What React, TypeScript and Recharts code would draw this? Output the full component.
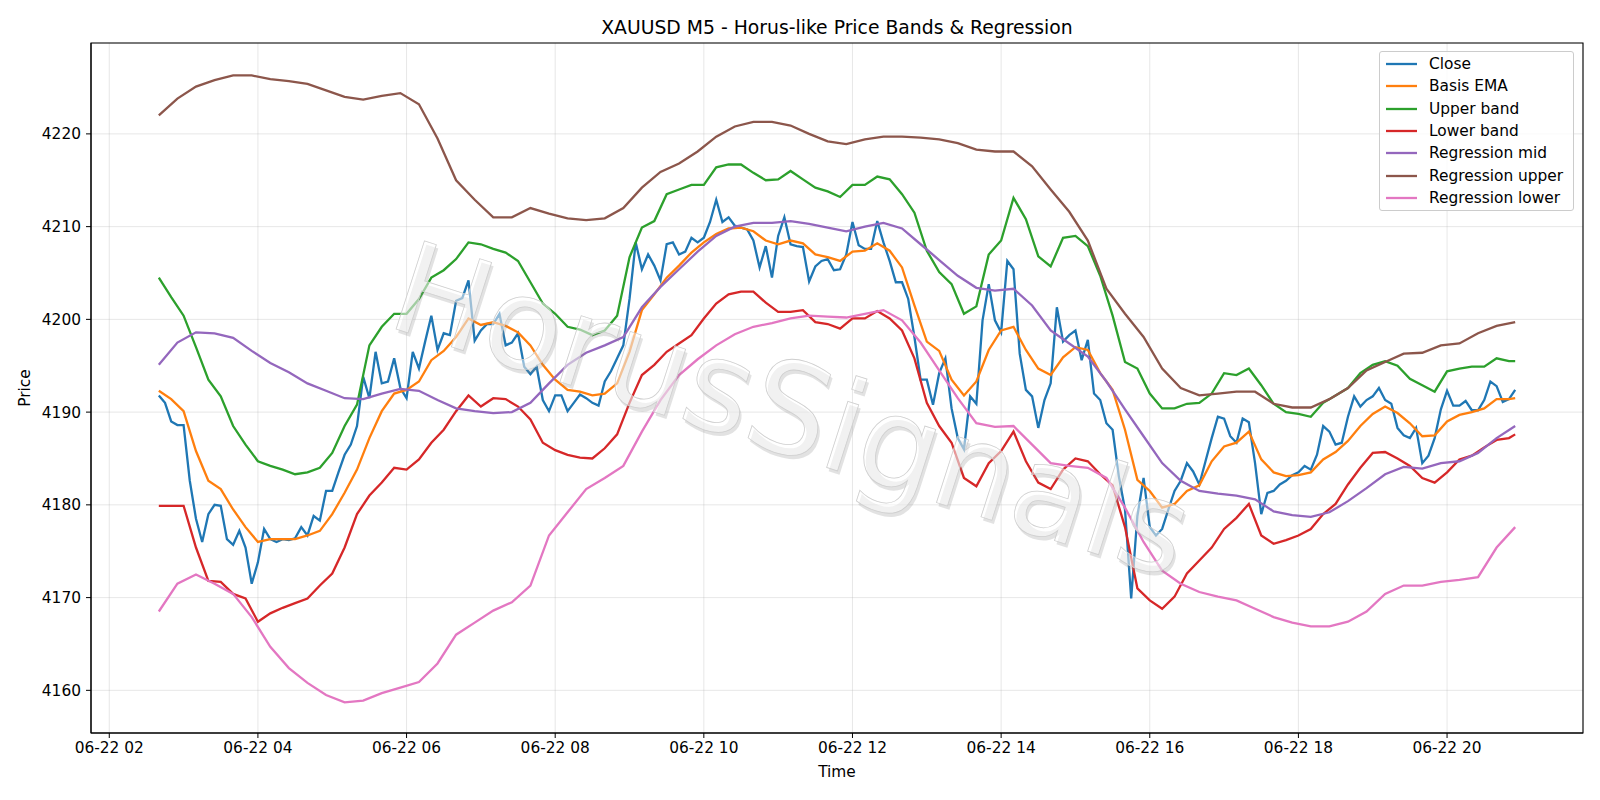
import React from 'react';
import { LineChart, Line, XAxis, YAxis, CartesianGrid, Legend, ReferenceArea } from 'recharts';

// time is in minutes after midnight on 06-22; series start at 02:40 and end at 20:55
const START_MIN = 160;
const END_MIN = 1255;

const xTicks = [120, 240, 360, 480, 600, 720, 840, 960, 1080, 1200];
const yTicks = [4160, 4170, 4180, 4190, 4200, 4210, 4220];

// M5 closes, one every 5 minutes
const closeValues = [
  4191.8, 4191.0, 4189.0, 4188.6, 4188.6, 4182.6, 4178.5, 4176.0, 4179.0, 4180.0, 4179.9, 4176.3,
  4175.7, 4177.2, 4175.4, 4171.5, 4173.8, 4177.4, 4176.3, 4176.0, 4176.3, 4176.2, 4176.4, 4177.6,
  4176.7, 4178.8, 4178.3, 4181.5, 4181.5, 4183.5, 4185.4, 4186.5, 4188.5, 4193.8, 4191.5, 4196.5,
  4193.1, 4193.3, 4195.8, 4192.6, 4191.5, 4196.5, 4194.7, 4197.6, 4200.4, 4196.7, 4198.5, 4198.3,
  4202.0, 4202.3, 4204.2, 4197.7, 4198.8, 4199.5, 4199.5, 4200.6, 4197.2, 4197.5, 4198.5, 4194.9,
  4194.1, 4194.9, 4191.3, 4190.1, 4191.8, 4191.8, 4190.1, 4191.0, 4191.9, 4191.5, 4191.0, 4190.7,
  4193.3, 4194.4, 4195.8, 4197.2, 4202.2, 4208.3, 4205.4, 4207.0, 4205.8, 4204.2, 4208.1, 4208.3,
  4207.0, 4207.3, 4208.8, 4208.3, 4208.8, 4210.5, 4212.9, 4210.5, 4211.0, 4210.1, 4209.9, 4209.7,
  4208.5, 4205.6, 4207.9, 4204.5, 4209.0, 4211.0, 4208.1, 4207.9, 4207.8, 4204.1, 4205.7, 4206.3,
  4206.5, 4205.3, 4205.4, 4207.0, 4210.5, 4208.0, 4207.6, 4207.6, 4210.6, 4208.3, 4206.3, 4204.0,
  4204.0, 4202.2, 4198.1, 4193.5, 4193.5, 4190.8, 4194.2, 4195.8, 4190.4, 4187.2, 4186.0, 4191.7,
  4190.9, 4199.9, 4203.8, 4199.9, 4198.6, 4206.3, 4205.4, 4196.3, 4192.4, 4191.7, 4188.3, 4191.3,
  4193.1, 4201.3, 4197.6, 4198.3, 4198.8, 4195.6, 4197.8, 4192.0, 4191.3, 4188.8, 4188.1, 4183.1,
  4179.5, 4169.9, 4178.8, 4182.9, 4177.6, 4176.7, 4177.4, 4179.5, 4181.5, 4182.6, 4184.5, 4183.6,
  4182.2, 4184.7, 4187.2, 4189.5, 4189.3, 4187.4, 4186.7, 4189.3, 4188.9, 4184.5, 4179.0, 4181.3,
  4181.5, 4182.2, 4182.6, 4183.2, 4183.5, 4184.2, 4183.8, 4185.4, 4188.5, 4187.9, 4186.5, 4186.7,
  4189.5, 4191.7, 4190.6, 4191.3, 4191.7, 4192.6, 4191.3, 4190.9, 4188.3, 4187.5, 4187.2, 4188.3,
  4184.5, 4185.3, 4187.2, 4190.3, 4192.3, 4190.7, 4190.7, 4191.2, 4190.2, 4190.2, 4191.3, 4193.3,
  4192.8, 4191.1, 4191.4, 4192.4,
];

// bands read every 10 minutes (last value at 20:55)
const emaValues = [
  4192.3, 4191.4,
  4190.1, 4185.8, 4182.6, 4181.7, 4179.5, 4177.6,
  4176.0, 4176.3, 4176.3, 4176.3, 4176.7, 4177.2,
  4179.0, 4181.3, 4183.8, 4187.2, 4190.1, 4192.0,
  4192.4, 4193.3, 4195.6, 4196.6, 4198.1, 4200.1,
  4199.4, 4199.7, 4199.3, 4198.6, 4197.2, 4195.1,
  4193.5, 4192.4, 4192.2, 4191.8, 4192.0, 4193.1,
  4196.5, 4201.0, 4202.7, 4204.5, 4205.8, 4207.2,
  4208.3, 4209.2, 4209.8, 4209.9, 4209.5, 4208.5,
  4208.1, 4208.5, 4208.2, 4207.0, 4206.7, 4206.3,
  4207.3, 4207.4, 4208.2, 4207.4, 4205.6, 4201.5,
  4197.6, 4196.6, 4193.5, 4191.8, 4193.3, 4196.7,
  4198.8, 4199.2, 4196.7, 4194.7, 4194.0, 4195.9,
  4197.0, 4196.7, 4194.2, 4192.4, 4188.1, 4182.7,
  4181.5, 4179.7, 4180.1, 4181.5, 4182.1, 4184.7,
  4186.3, 4186.7, 4187.9, 4184.9, 4183.5, 4183.1,
  4183.2, 4183.5, 4184.9, 4185.7, 4186.9, 4188.5,
  4189.8, 4190.6, 4189.9, 4188.8, 4187.4, 4187.5,
  4189.0, 4189.7, 4190.0, 4190.4, 4191.4, 4191.4, 4191.5,
];

const upperBandValues = [
  4204.5, 4202.4,
  4200.4, 4197.0, 4193.5, 4191.7, 4188.5, 4186.5,
  4184.7, 4184.2, 4183.8, 4183.3, 4183.5, 4184.0,
  4185.6, 4188.5, 4190.8, 4197.2, 4199.2, 4200.6,
  4200.6, 4202.2, 4204.5, 4205.3, 4206.5, 4208.3,
  4208.1, 4207.6, 4207.2, 4206.3, 4204.0, 4201.7,
  4200.6, 4199.2, 4198.9, 4198.3, 4198.8, 4200.4,
  4206.7, 4209.9, 4210.6, 4213.5, 4214.0, 4214.5,
  4214.5, 4216.4, 4216.7, 4216.7, 4215.8, 4215.0,
  4215.1, 4216.0, 4215.1, 4214.2, 4213.8, 4213.2,
  4214.5, 4214.5, 4215.4, 4215.1, 4213.5, 4211.5,
  4207.4, 4205.1, 4203.8, 4200.6, 4201.4, 4207.0,
  4208.5, 4213.1, 4210.8, 4206.8, 4205.7, 4208.8,
  4209.0, 4207.9, 4204.7, 4200.4, 4195.4, 4194.7,
  4192.0, 4190.4, 4190.4, 4190.9, 4191.0, 4192.0,
  4194.2, 4194.0, 4194.7, 4192.9, 4190.9, 4190.0,
  4189.8, 4189.5, 4191.0, 4191.8, 4192.6, 4194.2,
  4195.1, 4195.5, 4195.0, 4193.6, 4192.9, 4192.2,
  4194.4, 4194.7, 4194.9, 4194.9, 4195.8, 4195.5, 4195.5,
];

const lowerBandValues = [
  4179.9, 4179.9,
  4179.9, 4175.4, 4171.8, 4171.7, 4170.4, 4169.9,
  4167.4, 4168.3, 4168.9, 4169.4, 4169.9, 4171.3,
  4172.6, 4175.4, 4179.0, 4181.0, 4182.4, 4184.0,
  4183.8, 4184.9, 4186.7, 4188.1, 4190.1, 4191.8,
  4190.6, 4191.5, 4191.4, 4190.6, 4189.2, 4186.7,
  4185.9, 4185.4, 4185.1, 4185.0, 4186.1, 4187.6,
  4191.0, 4194.0, 4195.1, 4196.5, 4197.4, 4198.3,
  4200.1, 4201.7, 4202.7, 4203.0, 4203.0, 4201.8,
  4200.8, 4200.8, 4201.0, 4199.7, 4199.5, 4199.0,
  4200.1, 4200.1, 4200.9, 4200.1, 4198.8, 4195.8,
  4191.0, 4188.5, 4186.7, 4182.9, 4182.0, 4184.5,
  4185.8, 4187.9, 4184.7, 4182.4, 4181.7, 4183.8,
  4185.0, 4184.7, 4183.3, 4182.1, 4177.6, 4171.0,
  4169.7, 4168.8, 4170.1, 4172.6, 4174.0, 4175.4,
  4177.4, 4178.6, 4180.1, 4176.7, 4175.8, 4176.2,
  4176.7, 4177.4, 4179.0, 4180.1, 4182.2, 4184.0,
  4185.6, 4185.7, 4185.0, 4184.2, 4182.9, 4182.4,
  4183.5, 4184.9, 4185.3, 4186.2, 4187.0, 4187.2, 4187.6,
];

// regression channel read every 15 minutes
const regMidValues = [
  4195.1, 4197.5,
  4198.6, 4198.5, 4198.0, 4196.6,
  4195.3, 4194.3, 4193.1, 4192.3,
  4191.5, 4191.4, 4192.0, 4192.5,
  4192.3, 4191.3, 4190.4, 4190.1,
  4189.9, 4190.0, 4191.0, 4193.1,
  4195.1, 4196.4, 4197.2, 4198.1,
  4201.3, 4203.5, 4205.4, 4207.3,
  4209.0, 4210.0, 4210.4, 4210.4,
  4210.6, 4210.3, 4209.9, 4209.5,
  4210.0, 4210.4, 4209.8, 4208.1,
  4206.4, 4204.7, 4203.4, 4203.1,
  4203.3, 4201.5, 4198.8, 4197.4,
  4196.0, 4193.3, 4190.3, 4187.4,
  4184.5, 4182.6, 4181.5, 4181.2,
  4181.0, 4180.6, 4179.3, 4178.9,
  4178.7, 4179.2, 4180.4, 4181.8,
  4183.3, 4184.1, 4183.9, 4184.5,
  4184.7, 4185.6, 4187.2, 4188.5,
];

const regUpperValues = [
  4222.0, 4223.8,
  4225.1, 4225.8, 4226.3, 4226.3,
  4225.9, 4225.7, 4225.4, 4224.7,
  4224.0, 4223.7, 4224.1, 4224.4,
  4223.2, 4219.5, 4215.0, 4212.9,
  4211.0, 4211.0, 4212.0, 4211.4,
  4210.9, 4210.7, 4210.9, 4212.0,
  4214.2, 4215.9, 4216.8, 4218.1,
  4219.7, 4220.8, 4221.3, 4221.3,
  4220.9, 4220.0, 4219.2, 4218.9,
  4219.4, 4219.7, 4219.7, 4219.6,
  4219.4, 4219.0, 4218.3, 4218.1,
  4218.1, 4216.5, 4214.0, 4211.6,
  4208.5, 4203.3, 4200.6, 4198.1,
  4194.7, 4192.6, 4191.8, 4192.0,
  4192.2, 4192.2, 4190.9, 4190.5,
  4190.5, 4191.4, 4192.6, 4194.5,
  4195.4, 4196.3, 4196.4, 4197.2,
  4197.4, 4198.5, 4199.3, 4199.7,
];

const regLowerValues = [
  4168.5, 4171.5,
  4172.5, 4171.5, 4170.4, 4167.9,
  4164.7, 4162.4, 4160.8, 4159.5,
  4158.7, 4158.9, 4159.7, 4160.3,
  4160.9, 4162.9, 4166.0, 4167.3,
  4168.6, 4169.5, 4171.3, 4176.7,
  4179.2, 4181.7, 4182.9, 4184.2,
  4187.9, 4191.3, 4194.0, 4195.7,
  4197.2, 4198.4, 4199.2, 4199.6,
  4200.1, 4200.4, 4200.3, 4200.2,
  4200.6, 4201.0, 4199.9, 4197.5,
  4194.5, 4191.5, 4188.8, 4188.4,
  4188.5, 4186.5, 4184.5, 4184.2,
  4184.0, 4182.9, 4179.7, 4176.0,
  4172.9, 4171.5, 4170.6, 4170.1,
  4169.7, 4168.8, 4167.9, 4167.3,
  4166.9, 4166.9, 4167.4, 4168.5,
  4170.4, 4171.3, 4171.3, 4171.7,
  4171.9, 4172.2, 4175.4, 4177.6,
];

const toPoints = (step: number, values: number[]) =>
  values.map((v, i) => ({ t: Math.min(START_MIN + step * i, END_MIN), v }));

const series = [
  { name: 'Close', color: '#1f77b4', data: toPoints(5, closeValues) },
  { name: 'Basis EMA', color: '#ff7f0e', data: toPoints(10, emaValues) },
  { name: 'Upper band', color: '#2ca02c', data: toPoints(10, upperBandValues) },
  { name: 'Lower band', color: '#d62728', data: toPoints(10, lowerBandValues) },
  { name: 'Regression mid', color: '#9467bd', data: toPoints(15, regMidValues) },
  { name: 'Regression upper', color: '#8c564b', data: toPoints(15, regUpperValues) },
  { name: 'Regression lower', color: '#e377c2', data: toPoints(15, regLowerValues) },
];

// matplotlib-style 5% margins around the data
const xPad = (END_MIN - START_MIN) * 0.05;
const X_MIN = START_MIN - xPad;
const X_MAX = END_MIN + xPad;
const Y_MIN = 4155.4;
const Y_MAX = 4229.8;

const FONT = '"DejaVu Sans", Verdana, sans-serif';
const FS = 15.4;
const fmtTime = (m: number) => `06-22 ${String(Math.round(m / 60)).padStart(2, '0')}`;

function LegendBox() {
  return (
    <div style={{
      boxSizing: 'border-box', width: 195, height: 160, padding: '1px 6px',
      border: '1px solid #cccccc', borderRadius: 3, background: 'rgba(255,255,255,0.8)',
      fontFamily: FONT, fontSize: FS, color: '#000',
    }}>
      {series.map((s) => (
        <div key={s.name} style={{ display: 'flex', alignItems: 'center', height: 22.3, whiteSpace: 'nowrap' }}>
          <svg width={31} height={4} style={{ marginRight: 12, flexShrink: 0 }}>
            <line x1={0} y1={2} x2={31} y2={2} stroke={s.color} strokeWidth={2.3} />
          </svg>
          <span>{s.name}</span>
        </div>
      ))}
    </div>
  );
}

export default function App() {
  const tickStyle = { fill: '#000', fontSize: FS, fontFamily: FONT };
  return (
    <div style={{ position: 'absolute', left: 0, top: 0, width: 1600, height: 800, background: '#fff', fontFamily: FONT }}>
      <LineChart width={1600} height={800} margin={{ top: 43, right: 17, bottom: 37, left: 20 }}>
        <CartesianGrid stroke="#b0b0b0" strokeOpacity={0.3} strokeWidth={1} />
        <XAxis
          dataKey="t" type="number" domain={[X_MIN, X_MAX]} ticks={xTicks} allowDataOverflow
          tickFormatter={fmtTime} height={30} tick={tickStyle} tickSize={5} tickMargin={4}
          tickLine={{ stroke: '#000' }} axisLine={{ stroke: '#000' }}
        />
        <YAxis
          type="number" domain={[Y_MIN, Y_MAX]} ticks={yTicks} allowDataOverflow
          width={71} tick={tickStyle} tickSize={5} tickMargin={5}
          tickLine={{ stroke: '#000' }} axisLine={{ stroke: '#000' }}
        />
        <ReferenceArea x1={X_MIN} x2={X_MAX} y1={Y_MIN} y2={Y_MAX} fill="none" stroke="#000" strokeWidth={1.1} ifOverflow="visible" />
        {series.map((s) => (
          <Line
            key={s.name} data={s.data} dataKey="v" name={s.name} type="linear"
            stroke={s.color} strokeWidth={2.3} dot={false} activeDot={false} isAnimationActive={false}
          />
        ))}
        <Legend
          layout="horizontal" align="center" verticalAlign="middle"
          wrapperStyle={{ left: 1379, top: 51, width: 195, height: 160 }}
          content={() => <LegendBox />}
        />
      </LineChart>
      <svg width={1600} height={800} style={{ position: 'absolute', left: 0, top: 0, pointerEvents: 'none' }}>
        <text x={837} y={33.5} textAnchor="middle" fontSize={18.8} fontFamily={FONT} fill="#000">
          XAUUSD M5 - Horus-like Price Bands &amp; Regression
        </text>
        <text x={837} y={777} textAnchor="middle" fontSize={FS} fontFamily={FONT} fill="#000">Time</text>
        <text x={30} y={388} textAnchor="middle" fontSize={FS} fontFamily={FONT} fill="#000" transform="rotate(-90 30 388)">
          Price
        </text>
        <g transform="rotate(17.8 792 410)" fontFamily={FONT} fontSize={127}>
          <text x={795} y={413} textAnchor="middle" dominantBaseline="central" fill="#8a8a8a" fillOpacity={0.25}>
            HorusSignals
          </text>
          <text x={792} y={410} textAnchor="middle" dominantBaseline="central" fill="#ffffff" fillOpacity={0.5}
            stroke="#cfcfcf" strokeWidth={0.8}>
            HorusSignals
          </text>
        </g>
      </svg>
    </div>
  );
}
